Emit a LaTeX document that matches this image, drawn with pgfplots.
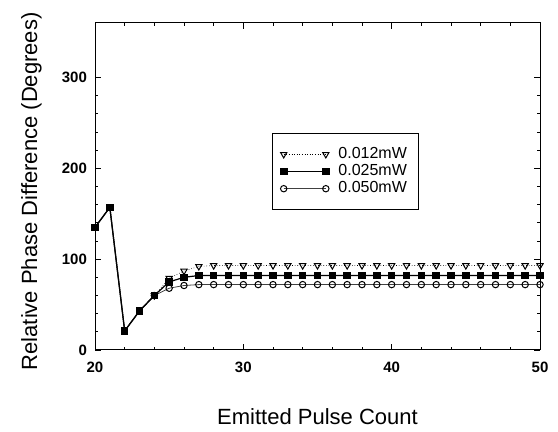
\documentclass[border=0pt]{standalone}
\usepackage{pgfplots}
\pgfplotsset{compat=1.18}
\usepackage{fontspec}
\setmainfont{Liberation Sans}

\begin{document}
\begin{tikzpicture}
\begin{axis}[
  scale only axis, width=222.5pt, height=163.5pt,
  xmin=20, xmax=50, ymin=0, ymax=360,
  xtick={20,30,40,50}, ytick={0,100,200,300},
  minor x tick num=4, minor y tick num=4,
  tick align=inside, major tick length=3pt, minor tick length=1.5pt,
  tick style={black, line width=0.4pt},
  axis line style={line width=0.5pt},
  /pgf/number format/assume math mode=true,
  ticklabel style={font=\fontsize{7.5}{9}\selectfont\bfseries},
  xticklabel style={yshift=-2.5pt},
  yticklabel style={xshift=-0.5pt},
  xlabel={Emitted Pulse Count},
  ylabel={Relative Phase Difference (Degrees)},
  label style={font=\fontsize{11}{13}\selectfont},
  xlabel style={at={(axis description cs:0.5,-0.229)}, anchor=base},
  ylabel style={at={(axis description cs:-0.130,0.485)}, anchor=base},
  legend style={at={(axis description cs:0.398,0.664)}, anchor=north west,
    font=\fontsize{8}{8.5}\selectfont, draw=black, line width=0.4pt,
    inner xsep=4pt, inner ysep=5pt, row sep=-2.5pt},
  legend cell align=left,
  legend image code/.code={
    \draw[#1] (0cm,0cm) -- (0.74cm,0cm);
    \draw[#1, only marks] plot coordinates {(0cm,0cm) (0.74cm,0cm)};
    \path (0.74cm+4pt,0cm);
  },
]
\addplot[black, line width=0.3pt, densely dotted, mark=triangle, mark size=1.8pt,
  mark options={rotate=180, solid, fill=white, line width=0.5pt}]
  coordinates {(24,60)(25,79)(26,87)(27,92)(28,93)(29,93)(30,93)(31,93)(32,93)
  (33,93)(34,93)(35,93)(36,93)(37,93)(38,93)(39,93)(40,93)(41,93)(42,93)(43,93)
  (44,93)(45,93)(46,93)(47,93)(48,93)(49,93)(50,93)};
\addlegendentry{0.012mW}
\addplot[black, line width=0.6pt, mark=square*, mark size=1.6pt, mark options={solid}]
  coordinates {(20,135)(21,157)(22,21)(23,43)(24,60)(25,75)(26,80)(27,82)(28,82)
  (29,82)(30,82)(31,82)(32,82)(33,82)(34,82)(35,82)(36,82)(37,82)(38,82)(39,82)
  (40,82)(41,82)(42,82)(43,82)(44,82)(45,82)(46,82)(47,82)(48,82)(49,82)(50,82)};
\addlegendentry{0.025mW}
\addplot[black!75, line width=0.4pt, mark=o, mark size=1.6pt,
  mark options={black, solid, fill=white, line width=0.5pt}]
  coordinates {(24,60)(25,68)(26,71)(27,72)(28,72)(29,72)(30,72)(31,72)(32,72)
  (33,72)(34,72)(35,72)(36,72)(37,72)(38,72)(39,72)(40,72)(41,72)(42,72)(43,72)
  (44,72)(45,72)(46,72)(47,72)(48,72)(49,72)(50,72)};
\addlegendentry{0.050mW}
\addplot[black, line width=0.6pt, mark=square*, mark size=1.6pt, forget plot]
  coordinates {(20,135)(21,157)(22,21)(23,43)(24,60)};
\end{axis}
\path ([shift={(-47.5pt,-40pt)}]current axis.south west)
  rectangle ([shift={(9pt,11.5pt)}]current axis.north east);
\end{tikzpicture}
\end{document}
